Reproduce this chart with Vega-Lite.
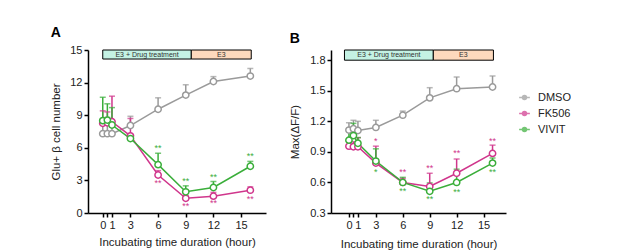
{
  "$schema": "https://vega.github.io/schema/vega-lite/v6.json",
  "padding": {"left": 50, "top": 26, "right": 0, "bottom": 0},
  "background": "white",
  "config": {
    "font": "Liberation Sans",
    "view": {"stroke": null},
    "axis": {"domainColor": "#000", "domainWidth": 1.5, "tickColor": "#000", "tickWidth": 1.5, "tickSize": 4, "labelFontSize": 11, "labelColor": "#222", "titleFontSize": 11.5, "titleFontWeight": "normal", "titleColor": "#222", "grid": false, "labelPadding": 2},
    "title": {"fontSize": 14, "fontWeight": "bold", "anchor": "start", "frame": "bounds", "offset": 4, "color": "#000"}
  },
  "datasets": {
    "seriesA": [
      {"g": "DMSO", "x": 0, "y": 7.3, "hi": 8.6},
      {"g": "DMSO", "x": 0.5, "y": 7.3, "hi": 8.8},
      {"g": "DMSO", "x": 1, "y": 7.3, "hi": 8.3},
      {"g": "DMSO", "x": 3, "y": 8.05, "hi": 8.9},
      {"g": "DMSO", "x": 6, "y": 9.55, "hi": 10.6},
      {"g": "DMSO", "x": 9, "y": 10.85, "hi": 11.8},
      {"g": "DMSO", "x": 12, "y": 12.1, "hi": 12.55},
      {"g": "DMSO", "x": 16, "y": 12.6, "hi": 13.3},
      {"g": "FK506", "x": 0, "y": 8.25, "hi": 9.4},
      {"g": "FK506", "x": 0.5, "y": 8.3, "hi": 9.3},
      {"g": "FK506", "x": 1, "y": 8.4, "hi": 10.75},
      {"g": "FK506", "x": 3, "y": 7.1, "hi": 8.7},
      {"g": "FK506", "x": 6, "y": 3.5, "hi": 3.9},
      {"g": "FK506", "x": 9, "y": 1.35, "hi": 1.6},
      {"g": "FK506", "x": 12, "y": 1.55, "hi": 1.9},
      {"g": "FK506", "x": 16, "y": 2.1, "hi": 2.4},
      {"g": "VIVIT", "x": 0, "y": 8.5, "hi": 10.65},
      {"g": "VIVIT", "x": 0.5, "y": 8.55, "hi": 10.05},
      {"g": "VIVIT", "x": 1, "y": 8.1, "hi": 9.7},
      {"g": "VIVIT", "x": 3, "y": 6.85, "hi": 7.0},
      {"g": "VIVIT", "x": 6, "y": 4.45, "hi": 5.5},
      {"g": "VIVIT", "x": 9, "y": 1.95, "hi": 2.5},
      {"g": "VIVIT", "x": 12, "y": 2.35, "hi": 2.9},
      {"g": "VIVIT", "x": 16, "y": 4.3, "hi": 4.75}
    ],
    "seriesB": [
      {"g": "DMSO", "x": 0, "y": 1.114, "hi": 1.186},
      {"g": "DMSO", "x": 0.5, "y": 1.127, "hi": 1.21},
      {"g": "DMSO", "x": 1, "y": 1.11, "hi": 1.2},
      {"g": "DMSO", "x": 3, "y": 1.14, "hi": 1.21},
      {"g": "DMSO", "x": 6, "y": 1.26, "hi": 1.3},
      {"g": "DMSO", "x": 9, "y": 1.43, "hi": 1.53},
      {"g": "DMSO", "x": 12, "y": 1.52, "hi": 1.635},
      {"g": "DMSO", "x": 16, "y": 1.537, "hi": 1.645},
      {"g": "FK506", "x": 0, "y": 0.956, "hi": 1.0},
      {"g": "FK506", "x": 0.5, "y": 0.95, "hi": 1.0},
      {"g": "FK506", "x": 1, "y": 0.95, "hi": 1.04},
      {"g": "FK506", "x": 3, "y": 0.79, "hi": 0.956},
      {"g": "FK506", "x": 6, "y": 0.6, "hi": 0.64},
      {"g": "FK506", "x": 9, "y": 0.56, "hi": 0.69},
      {"g": "FK506", "x": 12, "y": 0.69, "hi": 0.83},
      {"g": "FK506", "x": 16, "y": 0.885, "hi": 0.966},
      {"g": "VIVIT", "x": 0, "y": 1.015, "hi": 1.11},
      {"g": "VIVIT", "x": 0.5, "y": 1.06, "hi": 1.18},
      {"g": "VIVIT", "x": 1, "y": 0.985, "hi": 1.04},
      {"g": "VIVIT", "x": 3, "y": 0.81, "hi": 0.93},
      {"g": "VIVIT", "x": 6, "y": 0.6, "hi": 0.65},
      {"g": "VIVIT", "x": 9, "y": 0.513, "hi": 0.595},
      {"g": "VIVIT", "x": 12, "y": 0.6, "hi": 0.73},
      {"g": "VIVIT", "x": 16, "y": 0.79, "hi": 0.84}
    ],
    "starsA": [
      {"g": "VIVIT", "x": 6, "y": 6.0, "s": "**"},
      {"g": "VIVIT", "x": 9, "y": 2.94, "s": "**"},
      {"g": "VIVIT", "x": 12, "y": 3.3, "s": "**"},
      {"g": "VIVIT", "x": 16, "y": 5.24, "s": "**"},
      {"g": "FK506", "x": 6, "y": 2.8, "s": "**"},
      {"g": "FK506", "x": 9, "y": 0.64, "s": "**"},
      {"g": "FK506", "x": 12, "y": 0.9, "s": "**"},
      {"g": "FK506", "x": 16, "y": 1.3, "s": "**"}
    ],
    "starsB": [
      {"g": "FK506", "x": 3, "y": 1.005, "s": "*"},
      {"g": "FK506", "x": 6, "y": 0.7, "s": "**"},
      {"g": "FK506", "x": 9, "y": 0.74, "s": "**"},
      {"g": "FK506", "x": 12, "y": 0.89, "s": "**"},
      {"g": "FK506", "x": 16, "y": 1.01, "s": "**"},
      {"g": "VIVIT", "x": 3, "y": 0.7, "s": "*"},
      {"g": "VIVIT", "x": 6, "y": 0.52, "s": "**"},
      {"g": "VIVIT", "x": 9, "y": 0.44, "s": "**"},
      {"g": "VIVIT", "x": 12, "y": 0.51, "s": "**"},
      {"g": "VIVIT", "x": 16, "y": 0.7, "s": "**"}
    ],
    "headerA": [
      {"seg": "E3 + Drug treatment", "x": 0, "xe": 9.6, "xm": 4.8, "y": 14.17, "ye": 15, "ym": 14.58},
      {"seg": "E3", "x": 9.6, "xe": 16.1, "xm": 12.85, "y": 14.17, "ye": 15, "ym": 14.58}
    ],
    "headerB": [
      {"seg": "E3 + Drug treatment", "x": -0.5, "xe": 9.4, "xm": 4.45, "y": 1.8, "ye": 1.9, "ym": 1.85},
      {"seg": "E3", "x": 9.4, "xe": 16.1, "xm": 12.75, "y": 1.8, "ye": 1.9, "ym": 1.85}
    ]
  },
  "spacing": 23,
  "resolve": {"scale": {"color": "independent", "fill": "independent"}, "legend": {"color": "independent"}},
  "hconcat": [
    {
      "title": {"text": "A"},
      "width": 178,
      "height": 163,
      "encoding": {
        "x": {"field": "x", "type": "quantitative", "scale": {"domain": [-1.6, 17.7], "nice": false, "zero": false}, "title": "Incubating time duration (hour)", "axis": {"values": [0, 0.5, 1, 3, 6, 9, 12, 15], "labelExpr": "datum.value == 0.5 ? '' : datum.label", "titlePadding": 6}},
        "y": {"field": "y", "type": "quantitative", "scale": {"domain": [0, 15], "nice": false}, "title": "Glu+ β cell number", "axis": {"values": [0, 3, 6, 9, 12, 15], "titlePadding": 8}}
      },
      "layer": [
        {
          "data": {"name": "headerA"},
          "mark": {"type": "rect", "stroke": "#000", "strokeWidth": 1},
          "encoding": {
            "x2": {"field": "xe"},
            "y2": {"field": "ye"},
            "fill": {"field": "seg", "type": "nominal", "scale": {"domain": ["E3 + Drug treatment", "E3"], "range": ["#c4f2e4", "#fdd9bd"]}, "legend": null}
          }
        },
        {
          "data": {"name": "headerA"},
          "mark": {"type": "text", "fontSize": 7, "color": "#333", "baseline": "middle"},
          "encoding": {
            "x": {"field": "xm", "type": "quantitative", "title": "Incubating time duration (hour)"},
            "y": {"field": "ym", "type": "quantitative", "title": "Glu+ β cell number"},
            "text": {"field": "seg"}
          }
        },
        {
          "data": {"name": "seriesA"},
          "mark": {"type": "rule", "strokeWidth": 1.5},
          "encoding": {
            "y2": {"field": "hi"},
            "color": {"field": "g", "type": "nominal", "scale": {"domain": ["DMSO", "FK506", "VIVIT"], "range": ["#9a9a9a", "#d0368c", "#3aae3a"]}, "legend": null}
          }
        },
        {
          "data": {"name": "seriesA"},
          "mark": {"type": "tick", "orient": "horizontal", "size": 6, "thickness": 1.5},
          "encoding": {
            "y": {"field": "hi", "type": "quantitative", "title": "Glu+ β cell number"},
            "color": {"field": "g", "type": "nominal", "legend": null}
          }
        },
        {
          "data": {"name": "seriesA"},
          "mark": {"type": "line", "strokeWidth": 1.5},
          "encoding": {
            "color": {"field": "g", "type": "nominal", "legend": null}
          }
        },
        {
          "data": {"name": "seriesA"},
          "mark": {"type": "point", "shape": "circle", "filled": false, "fill": "white", "fillOpacity": 1, "size": 40, "strokeWidth": 1.5, "opacity": 1},
          "encoding": {
            "color": {"field": "g", "type": "nominal", "legend": null}
          }
        },
        {
          "data": {"name": "starsA"},
          "mark": {"type": "text", "fontSize": 9, "baseline": "middle"},
          "encoding": {
            "text": {"field": "s"},
            "color": {"field": "g", "type": "nominal", "legend": null}
          }
        }
      ]
    },
    {
      "title": {"text": "B"},
      "width": 175,
      "height": 163,
      "encoding": {
        "x": {"field": "x", "type": "quantitative", "scale": {"domain": [-2, 17.5], "nice": false, "zero": false}, "title": "Incubating time duration (hour)", "axis": {"values": [0, 0.5, 1, 3, 6, 9, 12, 15], "labelExpr": "datum.value == 0.5 ? '' : datum.label", "titlePadding": 8}},
        "y": {"field": "y", "type": "quantitative", "scale": {"domain": [0.3, 1.9], "nice": false, "zero": false}, "title": "Max(ΔF/F)", "axis": {"values": [0.3, 0.6, 0.9, 1.2, 1.5, 1.8], "format": ".1f", "titlePadding": 9}}
      },
      "layer": [
        {
          "data": {"name": "headerB"},
          "mark": {"type": "rect", "stroke": "#000", "strokeWidth": 1},
          "encoding": {
            "x2": {"field": "xe"},
            "y2": {"field": "ye"},
            "fill": {"field": "seg", "type": "nominal", "scale": {"domain": ["E3 + Drug treatment", "E3"], "range": ["#c4f2e4", "#fdd9bd"]}, "legend": null}
          }
        },
        {
          "data": {"name": "headerB"},
          "mark": {"type": "text", "fontSize": 7, "color": "#333", "baseline": "middle"},
          "encoding": {
            "x": {"field": "xm", "type": "quantitative", "title": "Incubating time duration (hour)"},
            "y": {"field": "ym", "type": "quantitative", "title": "Max(ΔF/F)"},
            "text": {"field": "seg"}
          }
        },
        {
          "data": {"name": "seriesB"},
          "mark": {"type": "rule", "strokeWidth": 1.5},
          "encoding": {
            "y2": {"field": "hi"},
            "color": {"field": "g", "type": "nominal", "scale": {"domain": ["DMSO", "FK506", "VIVIT"], "range": ["#9a9a9a", "#d0368c", "#3aae3a"]}, "legend": {"orient": "none", "legendX": 188, "legendY": 42, "title": null, "symbolType": "M-1.2,0L-0.45,0M0.45,0L1.2,0M-0.45,0A0.45,0.45,0,1,1,0.45,0A0.45,0.45,0,1,1,-0.45,0", "symbolSize": 80, "symbolStrokeWidth": 1.5, "symbolFillColor": "white", "labelFontSize": 11, "labelColor": "#222", "labelOffset": 8, "rowPadding": 4}}
          }
        },
        {
          "data": {"name": "seriesB"},
          "mark": {"type": "tick", "orient": "horizontal", "size": 6, "thickness": 1.5},
          "encoding": {
            "y": {"field": "hi", "type": "quantitative", "title": "Max(ΔF/F)"},
            "color": {"field": "g", "type": "nominal"}
          }
        },
        {
          "data": {"name": "seriesB"},
          "mark": {"type": "line", "strokeWidth": 1.5},
          "encoding": {
            "color": {"field": "g", "type": "nominal"}
          }
        },
        {
          "data": {"name": "seriesB"},
          "mark": {"type": "point", "shape": "circle", "filled": false, "fill": "white", "fillOpacity": 1, "size": 40, "strokeWidth": 1.5, "opacity": 1},
          "encoding": {
            "color": {"field": "g", "type": "nominal"}
          }
        },
        {
          "data": {"name": "starsB"},
          "mark": {"type": "text", "fontSize": 9, "baseline": "middle"},
          "encoding": {
            "text": {"field": "s"},
            "color": {"field": "g", "type": "nominal"}
          }
        }
      ]
    }
  ]
}
